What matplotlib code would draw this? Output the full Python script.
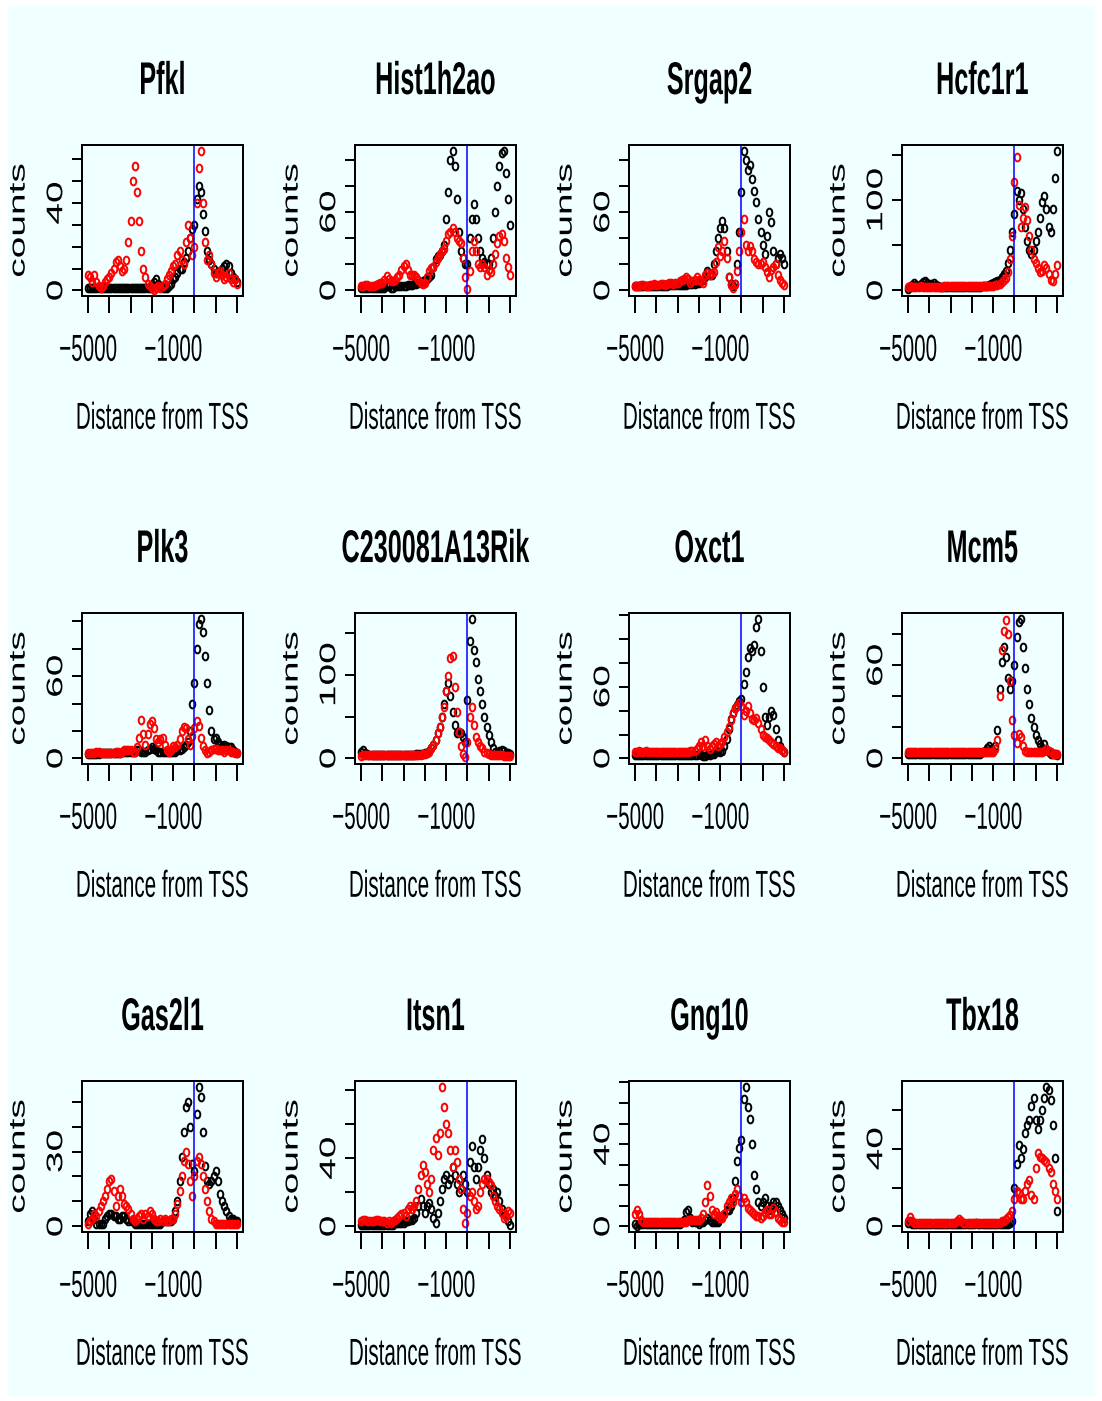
import numpy as np
import matplotlib
matplotlib.use('Agg')
import matplotlib.pyplot as plt
from matplotlib.path import Path
from matplotlib.transforms import Affine2D
from matplotlib.patches import Rectangle
from matplotlib import patheffects

# read counts every 100 bp around the TSS
distance = np.arange(-5000, 2001, 100)

pfkl_black = [1, 1, 1, 1, 1, 1, 1, 1, 1, 1,  1, 1, 1, 1, 1, 1, 1, 1, 1, 1,
              1, 1, 1, 1, 1, 1, 1, 1, 1, 1,  2, 4, 5, 3, 2, 1, 1, 1, 2, 3,
              5, 6, 8, 10, 10, 13, 15, 18, 24, 28,  30, 42, 48, 45, 35, 27, 18, 14, 12, 10,
              8, 8, 9, 10, 11, 12, 11, 8, 6, 5,  4]
pfkl_red = [7, 6, 4, 7, 4, 2, 1, 2, 4, 5,  6, 8, 10, 13, 14, 11, 9, 10, 14, 22,
            32, 50, 57, 45, 32, 18, 10, 6, 3, 2,  1, 0, 1, 2, 1, 2, 3, 5, 7, 9,
            11, 12, 16, 18, 14, 12, 22, 30, 24, 16,  20, 40, 56, 64, 40, 22, 14, 16, 12, 8,
            6, 8, 9, 7, 5, 6, 8, 5, 4, 5,  3]

hist1h2ao_black = [2, 2, 2, 2, 2, 2, 2, 2, 2, 2,  2, 2, 3, 3, 2, 2, 3, 3, 3, 3,
                   3, 3, 4, 4, 4, 5, 5, 6, 6, 7,  8, 9, 10, 12, 18, 24, 26, 27, 30, 35,
                   55, 75, 100, 107, 95, 70, 45, 30, 25, 20,  20, 40, 55, 66, 55, 40, 30, 25, 22, 20,
                   20, 25, 40, 60, 80, 95, 105, 107, 90, 70,  50]
hist1h2ao_red = [3, 3, 4, 4, 3, 3, 3, 4, 5, 6,  6, 8, 11, 9, 7, 7, 8, 10, 12, 16,
                 19, 20, 16, 12, 12, 12, 10, 8, 6, 5,  6, 10, 15, 17, 18, 22, 25, 28, 30, 32,
                 38, 43, 45, 48, 45, 40, 38, 36, 25, 10,  1, 15, 30, 38, 30, 20, 18, 20, 18, 12,
                 16, 14, 20, 28, 36, 42, 43, 38, 25, 18,  12]

srgap2_black = [3, 3, 3, 3, 3, 3, 3, 3, 3, 3,  3, 3, 3, 3, 3, 3, 4, 4, 4, 4,
                4, 4, 4, 4, 4, 5, 5, 5, 5, 6,  6, 7, 8, 10, 15, 12, 12, 20, 30, 40,
                48, 53, 48, 30, 10, 5, 3, 5, 20, 45,  75, 107, 100, 92, 96, 85, 76, 68, 55, 45,
                35, 28, 42, 60, 52, 30, 20, 25, 28, 25,  20]
srgap2_red = [3, 3, 3, 4, 4, 3, 3, 4, 4, 5,  4, 4, 5, 5, 4, 5, 6, 6, 5, 6,
              6, 7, 8, 9, 10, 9, 6, 7, 8, 10,  8, 7, 6, 12, 13, 12, 13, 14, 22, 33,
              26, 30, 38, 25, 10, 4, 2, 5, 15, 30,  45, 55, 35, 30, 34, 30, 24, 22, 20, 20,
              22, 18, 14, 10, 16, 18, 20, 12, 8, 6,  4]

hcfc1r1_black = [2, 4, 6, 8, 6, 5, 7, 9, 10, 8,  6, 7, 8, 6, 5, 4, 4, 4, 4, 4,
                 4, 4, 4, 4, 4, 4, 4, 4, 4, 4,  4, 4, 4, 4, 4, 5, 5, 5, 6, 7,
                 8, 9, 10, 12, 15, 18, 22, 30, 45, 65,  85, 110, 100, 108, 90, 70, 55, 45, 40, 45,
                 55, 65, 80, 98, 105, 90, 70, 65, 90, 125,  155]
hcfc1r1_red = [4, 5, 4, 4, 4, 4, 5, 4, 4, 4,  4, 4, 4, 4, 4, 4, 4, 5, 5, 5,
               5, 5, 5, 5, 5, 5, 5, 5, 5, 5,  5, 5, 5, 5, 5, 5, 5, 5, 5, 5,
               5, 6, 6, 7, 9, 11, 14, 20, 35, 60,  120, 148, 95, 70, 80, 92, 78, 60, 45, 35,
               30, 25, 20, 22, 28, 25, 18, 12, 10, 18,  28]

plk3_black = [3, 3, 3, 3, 3, 3, 4, 4, 4, 4,  4, 4, 4, 4, 4, 4, 5, 5, 5, 5,
              5, 5, 5, 6, 6, 5, 5, 5, 6, 7,  8, 7, 6, 5, 5, 5, 5, 5, 5, 5,
              5, 5, 6, 6, 7, 8, 10, 12, 20, 40,  55, 80, 98, 102, 92, 75, 55, 35, 20, 14,
              15, 12, 10, 9, 10, 9, 8, 8, 6, 5,  4]
plk3_red = [4, 4, 4, 4, 5, 5, 4, 4, 4, 4,  4, 4, 4, 5, 5, 4, 5, 6, 6, 6,
            6, 5, 5, 8, 15, 28, 18, 10, 18, 25,  27, 22, 14, 12, 14, 15, 10, 6, 5, 6,
            9, 8, 10, 14, 20, 23, 22, 14, 10, 16,  22, 27, 24, 15, 9, 6, 4, 5, 6, 7,
            7, 6, 6, 6, 5, 6, 6, 5, 5, 4,  4]

c230081a13rik_black = [8, 10, 6, 5, 4, 4, 4, 4, 4, 4,  4, 4, 4, 4, 4, 4, 4, 4, 4, 4,
                       4, 4, 4, 4, 4, 4, 5, 5, 5, 5,  6, 7, 9, 12, 16, 22, 30, 38, 50, 65,
                       80, 90, 75, 55, 40, 30, 32, 30, 25, 20,  70, 140, 167, 130, 115, 95, 80, 65, 50, 38,
                       28, 20, 12, 8, 7, 9, 10, 9, 7, 6,  5]
c230081a13rik_red = [3, 4, 4, 4, 4, 4, 4, 4, 4, 4,  4, 4, 4, 4, 4, 4, 4, 4, 4, 4,
                     4, 4, 4, 4, 4, 4, 4, 4, 4, 5,  5, 6, 8, 12, 16, 22, 30, 38, 50, 62,
                     80, 98, 120, 122, 85, 55, 32, 15, 5, 2,  20, 50, 62, 40, 25, 20, 15, 12, 8, 6,
                     5, 4, 4, 4, 4, 4, 4, 3, 3, 3,  3]

oxct1_black = [3, 3, 3, 3, 3, 3, 3, 3, 3, 3,  3, 3, 3, 3, 3, 3, 3, 3, 3, 3,
               3, 3, 3, 3, 3, 3, 3, 3, 3, 3,  4, 3, 2, 2, 3, 3, 4, 4, 5, 6,
               5, 6, 10, 16, 25, 33, 38, 42, 45, 48,  50, 62, 72, 85, 92, 90, 95, 110, 117, 90,
               60, 35, 28, 35, 40, 36, 25, 15, 10, 7,  5]
oxct1_red = [5, 5, 6, 5, 5, 6, 5, 5, 5, 5,  5, 5, 5, 5, 5, 5, 5, 5, 5, 5,
             5, 5, 5, 5, 5, 5, 6, 6, 6, 8,  10, 14, 10, 15, 10, 8, 10, 12, 14, 10,
             12, 14, 18, 22, 26, 32, 38, 42, 44, 46,  44, 36, 40, 44, 38, 33, 32, 34, 30, 25,
             20, 18, 17, 15, 14, 12, 10, 9, 9, 7,  5]

mcm5_black = [3, 3, 3, 3, 3, 3, 3, 3, 3, 3,  3, 3, 3, 3, 3, 3, 3, 3, 3, 3,
              3, 3, 3, 3, 3, 3, 3, 3, 3, 3,  3, 3, 3, 3, 3, 4, 5, 7, 8, 6,
              5, 8, 18, 45, 62, 72, 65, 52, 45, 50,  60, 78, 88, 90, 72, 58, 45, 35, 26, 20,
              15, 12, 9, 7, 9, 6, 4, 3, 3, 3,  2]
mcm5_red = [4, 4, 4, 4, 4, 4, 4, 4, 4, 4,  4, 4, 4, 4, 4, 4, 4, 4, 4, 4,
            4, 4, 4, 4, 4, 4, 4, 4, 4, 4,  4, 4, 4, 4, 4, 4, 4, 4, 4, 4,
            4, 6, 12, 40, 70, 82, 89, 80, 50, 25,  15, 10, 16, 14, 8, 5, 4, 4, 4, 4,
            4, 4, 4, 4, 5, 6, 5, 4, 3, 3,  3]

gas2l1_black = [2, 5, 6, 3, 1, 1, 1, 1, 3, 4,  5, 5, 4, 4, 3, 3, 4, 4, 3, 2,
                2, 2, 1, 1, 1, 1, 1, 1, 1, 1,  1, 1, 1, 1, 1, 2, 2, 2, 2, 2,
                3, 6, 10, 18, 28, 38, 48, 50, 40, 25,  22, 45, 56, 52, 38, 24, 18, 17, 18, 20,
                22, 18, 13, 10, 8, 6, 4, 3, 3, 2,  2]
gas2l1_red = [1, 2, 3, 5, 4, 6, 8, 10, 12, 15,  18, 19, 14, 8, 12, 15, 12, 9, 8, 7,
              5, 3, 2, 3, 4, 5, 3, 5, 4, 6,  5, 3, 2, 2, 3, 2, 3, 2, 2, 3,
              3, 5, 9, 14, 20, 26, 30, 25, 18, 12,  20, 26, 28, 25, 20, 15, 10, 6, 3, 2,
              1, 1, 1, 1, 1, 1, 1, 1, 1, 1,  1]

itsn1_black = [1, 1, 1, 1, 1, 1, 1, 1, 1, 1,  1, 1, 1, 1, 1, 1, 2, 2, 2, 2,
               2, 3, 3, 4, 4, 5, 8, 12, 16, 12,  8, 12, 14, 10, 5, 2, 8, 15, 22, 28,
               30, 25, 28, 35, 30, 25, 20, 22, 30, 25,  20, 38, 47, 35, 28, 35, 45, 51, 40, 30,
               25, 20, 22, 18, 20, 15, 10, 8, 6, 3,  1]
itsn1_red = [3, 4, 4, 3, 3, 3, 3, 4, 4, 3,  3, 3, 2, 3, 2, 3, 4, 5, 6, 7,
             8, 6, 10, 12, 10, 12, 15, 22, 30, 36,  32, 25, 20, 28, 45, 52, 42, 55, 82, 70,
             60, 55, 45, 35, 45, 38, 28, 22, 10, 2,  8, 18, 20, 15, 10, 12, 20, 25, 28, 28,
             26, 24, 18, 15, 12, 10, 8, 5, 6, 9,  8]

gng10_black = [1, 0, 1, 1, 1, 1, 1, 1, 1, 1,  1, 1, 1, 1, 1, 1, 1, 1, 1, 1,
               1, 1, 2, 3, 7, 8, 4, 2, 2, 2,  1, 2, 2, 3, 4, 3, 2, 2, 2, 2,
               4, 5, 6, 8, 8, 10, 14, 22, 32, 38,  42, 62, 68, 58, 52, 40, 25, 18, 12, 10,
               12, 14, 10, 8, 10, 12, 12, 10, 8, 6,  4]
gng10_red = [6, 8, 6, 3, 2, 2, 2, 2, 2, 2,  2, 2, 2, 2, 2, 2, 2, 2, 2, 2,
             2, 2, 2, 2, 2, 3, 3, 3, 3, 3,  3, 4, 6, 12, 20, 15, 8, 6, 7, 5,
             4, 4, 6, 10, 12, 14, 12, 16, 18, 15,  12, 14, 12, 9, 8, 7, 6, 5, 5, 4,
             5, 7, 8, 6, 6, 9, 7, 4, 3, 2,  2]

tbx18_black = [2, 3, 1, 1, 1, 1, 1, 1, 1, 1,  1, 1, 1, 1, 1, 1, 1, 1, 1, 1,
               1, 1, 1, 1, 1, 1, 1, 1, 1, 1,  1, 1, 2, 1, 1, 1, 1, 1, 1, 1,
               1, 1, 1, 1, 1, 1, 1, 1, 2, 3,  20, 32, 42, 35, 40, 48, 52, 55, 62, 66,
               55, 50, 55, 60, 66, 72, 70, 65, 52, 35,  8]
tbx18_red = [3, 5, 3, 2, 2, 2, 2, 2, 2, 2,  2, 2, 2, 2, 2, 2, 2, 2, 2, 2,
             2, 2, 2, 3, 4, 3, 2, 2, 2, 2,  2, 2, 2, 2, 2, 2, 2, 2, 2, 2,
             2, 2, 2, 2, 3, 3, 4, 5, 6, 8,  14, 18, 17, 14, 14, 18, 22, 24, 16, 14,
             30, 38, 36, 35, 34, 33, 30, 28, 22, 18,  14]

genes = ['Pfkl', 'Hist1h2ao', 'Srgap2', 'Hcfc1r1',
         'Plk3', 'C230081A13Rik', 'Oxct1', 'Mcm5',
         'Gas2l1', 'Itsn1', 'Gng10', 'Tbx18']
black_counts = [pfkl_black, hist1h2ao_black, srgap2_black, hcfc1r1_black,
                plk3_black, c230081a13rik_black, oxct1_black, mcm5_black,
                gas2l1_black, itsn1_black, gng10_black, tbx18_black]
red_counts = [pfkl_red, hist1h2ao_red, srgap2_red, hcfc1r1_red,
              plk3_red, c230081a13rik_red, oxct1_red, mcm5_red,
              gas2l1_red, itsn1_red, gng10_red, tbx18_red]

# y axis: tick spacing and which ticks carry a label
ytick_step = [10, 20, 20, 50, 20, 50, 20, 20, 10, 20, 10, 20]
ytick_shown = [(0, 40), (0, 60), (0, 60), (0, 100), (0, 60), (0, 100),
               (0, 60), (0, 60), (0, 30), (0, 40), (0, 40), (0, 40)]
xticks = [-5000, -4000, -3000, -2000, -1000, 0, 1000, 2000]
xtick_shown = [-5000, -1000]


class GlyphScale(patheffects.AbstractPathEffect):
    """Scale glyph height in the text's own frame about a height cy
    (glyph units, 100 per em above the baseline)."""

    def __init__(self, sy, cy=36.0):
        super().__init__()
        self.sy, self.cy = sy, cy

    def draw_path(self, renderer, gc, tpath, affine, rgbFace=None):
        local = Affine2D().translate(0, -self.cy).scale(1, self.sy).translate(0, self.cy)
        renderer.draw_path(gc, tpath, local + affine, rgbFace)


tall = [GlyphScale(1 / 0.55)]        # upright text: tall, narrow letters
thin = [GlyphScale(0.58)]            # rotated digits
thin_x = [GlyphScale(0.58, cy=27)]   # rotated lower-case label
font = 'Liberation Sans'

W, H = 1102, 1401
fig = plt.figure(figsize=(W / 100, H / 100), dpi=100)
fig.patch.set_facecolor('white')
fig.add_artist(Rectangle((8 / W, 1 - 1396 / H), 1087 / W, 1390 / H,
                         transform=fig.transFigure, facecolor='azure',
                         edgecolor='none', zorder=-10))

col_left = [82, 355, 629, 902]
row_top = [145, 613, 1081]
bw, bh = 161, 151

# open circle, taller than wide
ring = Path.unit_circle().transformed(Affine2D().scale(0.72, 1.0))

for i, gene in enumerate(genes):
    r, c = divmod(i, 4)
    ax = fig.add_axes([col_left[c] / W, 1 - (row_top[r] + bh) / H, bw / W, bh / H])
    ax.set_facecolor('none')

    blk = np.array(black_counts[i])
    red = np.array(red_counts[i])
    top = max(blk.max(), red.max())

    ax.plot(distance, blk, ls='none', marker=ring, ms=5.6, mfc='none',
            mec='black', mew=1.4)
    ax.plot(distance, red, ls='none', marker=ring, ms=5.6, mfc='none',
            mec='#ff0000', mew=1.4)
    ax.axvline(0, color='#0000ff', lw=1.1)

    ax.set_xlim(-5280, 2280)
    ax.set_ylim(-0.04 * top, 1.04 * top)

    yt = np.arange(0, 1.04 * top + 1e-9, ytick_step[i])
    ax.set_xticks(xticks)
    ax.set_yticks(yt)
    ax.tick_params(axis='x', length=12.2, width=1.44, labelbottom=False)
    ax.tick_params(axis='y', length=7.2, width=1.44, labelleft=False)
    for s in ax.spines.values():
        s.set_linewidth(1.44)

    # tick labels, only where they fit
    for t in xtick_shown:
        ax.text(t, -53.2 / bh, '\u2212%d' % -t, transform=ax.get_xaxis_transform(),
                fontfamily=font, fontsize=14.85, ha='center', va='center',
                path_effects=tall, clip_on=False)
    for t in ytick_shown[i]:
        ax.text(-23.9 / bw, t, '%d' % t, transform=ax.get_yaxis_transform(),
                fontfamily=font, fontsize=28, rotation=90, ha='center', va='center',
                path_effects=thin, clip_on=False)

    ax.text(0.5, 1 + 65.4 / bh, gene, transform=ax.transAxes, fontfamily=font,
            fontsize=18.15, fontweight='bold', ha='center', va='center',
            path_effects=tall, clip_on=False)
    ax.text(0.5, -121.2 / bh, 'Distance from TSS', transform=ax.transAxes,
            fontfamily=font, fontsize=14.85, ha='center', va='center',
            path_effects=tall, clip_on=False)
    ax.text(-63 / bw, 0.5, 'counts', transform=ax.transAxes, fontfamily=font,
            fontsize=28, rotation=90, rotation_mode='anchor', ha='center',
            va='center', path_effects=thin_x, clip_on=False)

fig.savefig('out.png', dpi=100)
